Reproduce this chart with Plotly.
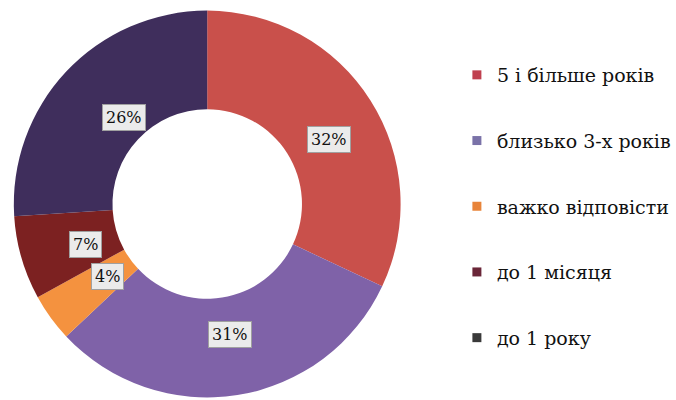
import math
import plotly.graph_objects as go

labels = ["5 і більше років", "близько 3-х років", "важко відповісти", "до 1 місяця", "до 1 року"]
values = [32, 31, 4, 7, 26]
slice_colors = ["#c9504b", "#7f62a8", "#f4923f", "#7c2121", "#3f2e5c"]
legend_colors = ["#c0404f", "#7a72a8", "#e8843a", "#6a2638", "#3a3a3a"]

W, H = 676, 400
FONT = "DejaVu Serif"

# pie geometry in pixels
cx, cy, r_out, hole = 210, 204, 196, 0.49
dom_x = [(cx - r_out) / W, (cx + r_out) / W]
dom_y = [(H - cy - r_out) / H, (H - cy + r_out) / H]

fig = go.Figure()
fig.add_trace(go.Pie(
    labels=labels, values=values, hole=hole, sort=False, direction="clockwise",
    rotation=0, marker=dict(colors=slice_colors, line=dict(width=0)),
    textinfo="none", showlegend=False, hoverinfo="label+percent",
    domain=dict(x=dom_x, y=dom_y),
))

# boxed percentage labels, centred in the ring at each slice's middle angle
r_mid = r_out * (1 + hole) / 2
total = sum(values)
cum = 0
for v in values:
    ang = 2 * math.pi * (cum + v / 2) / total
    cum += v
    px = cx + r_mid * math.sin(ang)
    py = cy - r_mid * math.cos(ang)
    fig.add_annotation(
        x=px / W, y=1 - py / H, xref="paper", yref="paper",
        text=f"{round(v / total * 100)}%", showarrow=False,
        font=dict(family=FONT, size=16, color="#111"),
        bgcolor="#ebebeb", bordercolor="#a0a0a0", borderwidth=1, borderpad=3,
    )

# legend entries as square markers
for lab, col in zip(labels, legend_colors):
    fig.add_trace(go.Scatter(
        x=[None], y=[None], mode="markers", name=lab, legendgroup=lab,
        marker=dict(symbol="square", size=9, color=col),
    ))

fig.update_layout(
    width=W, height=H, margin=dict(l=0, r=0, t=0, b=0),
    paper_bgcolor="white", plot_bgcolor="white",
    xaxis=dict(visible=False), yaxis=dict(visible=False),
    legend=dict(x=0.685, y=0.86, xanchor="left", yanchor="top",
                font=dict(family=FONT, size=19, color="#111"),
                tracegroupgap=38, itemwidth=30, bgcolor="rgba(0,0,0,0)"),
)

fig.write_html("out.html", config={"displayModeBar": False},
               post_script="document.body.style.margin='0';")
